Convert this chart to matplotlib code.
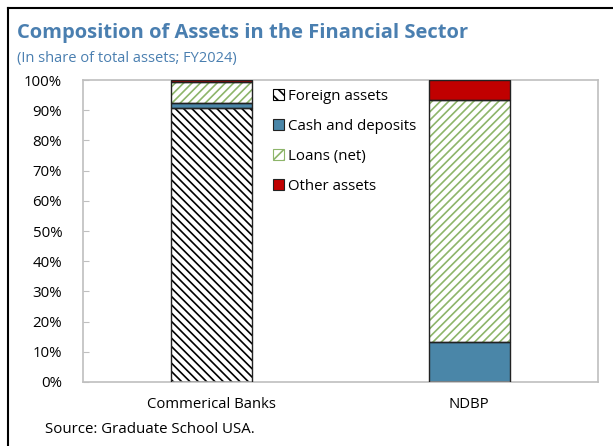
import numpy as np
import matplotlib.pyplot as plt
from matplotlib.patches import Patch
from matplotlib.lines import Line2D

# ------------------------------------------------------------
# Data: share of total assets (%), FY2024
# ------------------------------------------------------------
institutions = ["Commerical Banks", "NDBP"]
foreign_assets = [90.8, 0.0]
cash_deposits = [1.5, 13.3]
loans_net = [7.2, 80.2]
other_assets = [0.5, 6.5]

series = ["Foreign assets", "Cash and deposits", "Loans (net)", "Other assets"]

plt.rcParams['font.family'] = ['Open Sans', 'DejaVu Sans']
plt.rcParams['hatch.linewidth'] = 1.2

title_blue = "#4a7fb0"
cash_blue = "#4a86a8"
loan_green = "#8db56a"
other_red = "#c00000"
grid_gray = "#bfbfbf"

fig = plt.figure(figsize=(6.13, 4.46), dpi=100)
ax = fig.add_axes([0.1354, 0.1435, 0.8401, 0.6771])

x = np.arange(len(institutions))
w = 0.315

# fill + hatch for each segment, outlines drawn on top
styles = [
    (foreign_assets, dict(color="white", edgecolor="black", hatch="\\\\\\\\")),
    (cash_deposits, dict(color=cash_blue, edgecolor=cash_blue)),
    (loans_net, dict(color="white", edgecolor=loan_green, hatch="////")),
    (other_assets, dict(color=other_red, edgecolor=other_red)),
]
bottom = np.zeros(len(institutions))
for vals, st in styles:
    vals = np.array(vals)
    ax.bar(x, vals, w, bottom=bottom, linewidth=0, zorder=2, **st)
    ax.bar(x, vals, w, bottom=bottom, fill=False, edgecolor="#222222",
           linewidth=1.0, zorder=3)
    bottom += vals

ax.set_xlim(-0.5, 1.5)
ax.set_ylim(0, 100)
ax.set_yticks(np.arange(0, 101, 10))
ax.set_yticklabels([f"{v}%" for v in range(0, 101, 10)], fontsize=10.8)
ax.set_xticks(x)
ax.set_xticklabels(institutions, fontsize=10.7)
ax.tick_params(axis="x", length=0, pad=11)
ax.tick_params(axis="y", direction="in", length=4, color=grid_gray, pad=15)
for s in ax.spines.values():
    s.set_color(grid_gray)
    s.set_linewidth(1.2)

handles = [
    Patch(facecolor="white", edgecolor="black", hatch="\\\\\\", linewidth=0.8),
    Patch(facecolor=cash_blue, edgecolor="#222222", linewidth=0.8),
    Patch(facecolor="white", edgecolor=loan_green, hatch="///", linewidth=0.8),
    Patch(facecolor=other_red, edgecolor="#222222", linewidth=0.8),
]
ax.legend(handles, series, loc="upper left", bbox_to_anchor=(0.345, 1.01),
          frameon=False, fontsize=10.8, handlelength=0.75, handleheight=0.75,
          handletextpad=0.3, labelspacing=1.0, borderpad=0.3)

fig.text(0.028, 0.915, "Composition of Assets in the Financial Sector",
         fontsize=14.5, fontweight="bold", color=title_blue)
fig.text(0.028, 0.862, "(In share of total assets; FY2024)",
         fontsize=10.5, color=title_blue)
fig.text(0.073, 0.03, "Source: Graduate School USA.", fontsize=10.8)

# frame around the figure (left and top edges)
fig.add_artist(Line2D([0.013, 0.013], [0.0, 0.982], color="black", lw=1.5))
fig.add_artist(Line2D([0.013, 1.0], [0.982, 0.982], color="black", lw=1.5))

fig.savefig("out.png", dpi=100)
